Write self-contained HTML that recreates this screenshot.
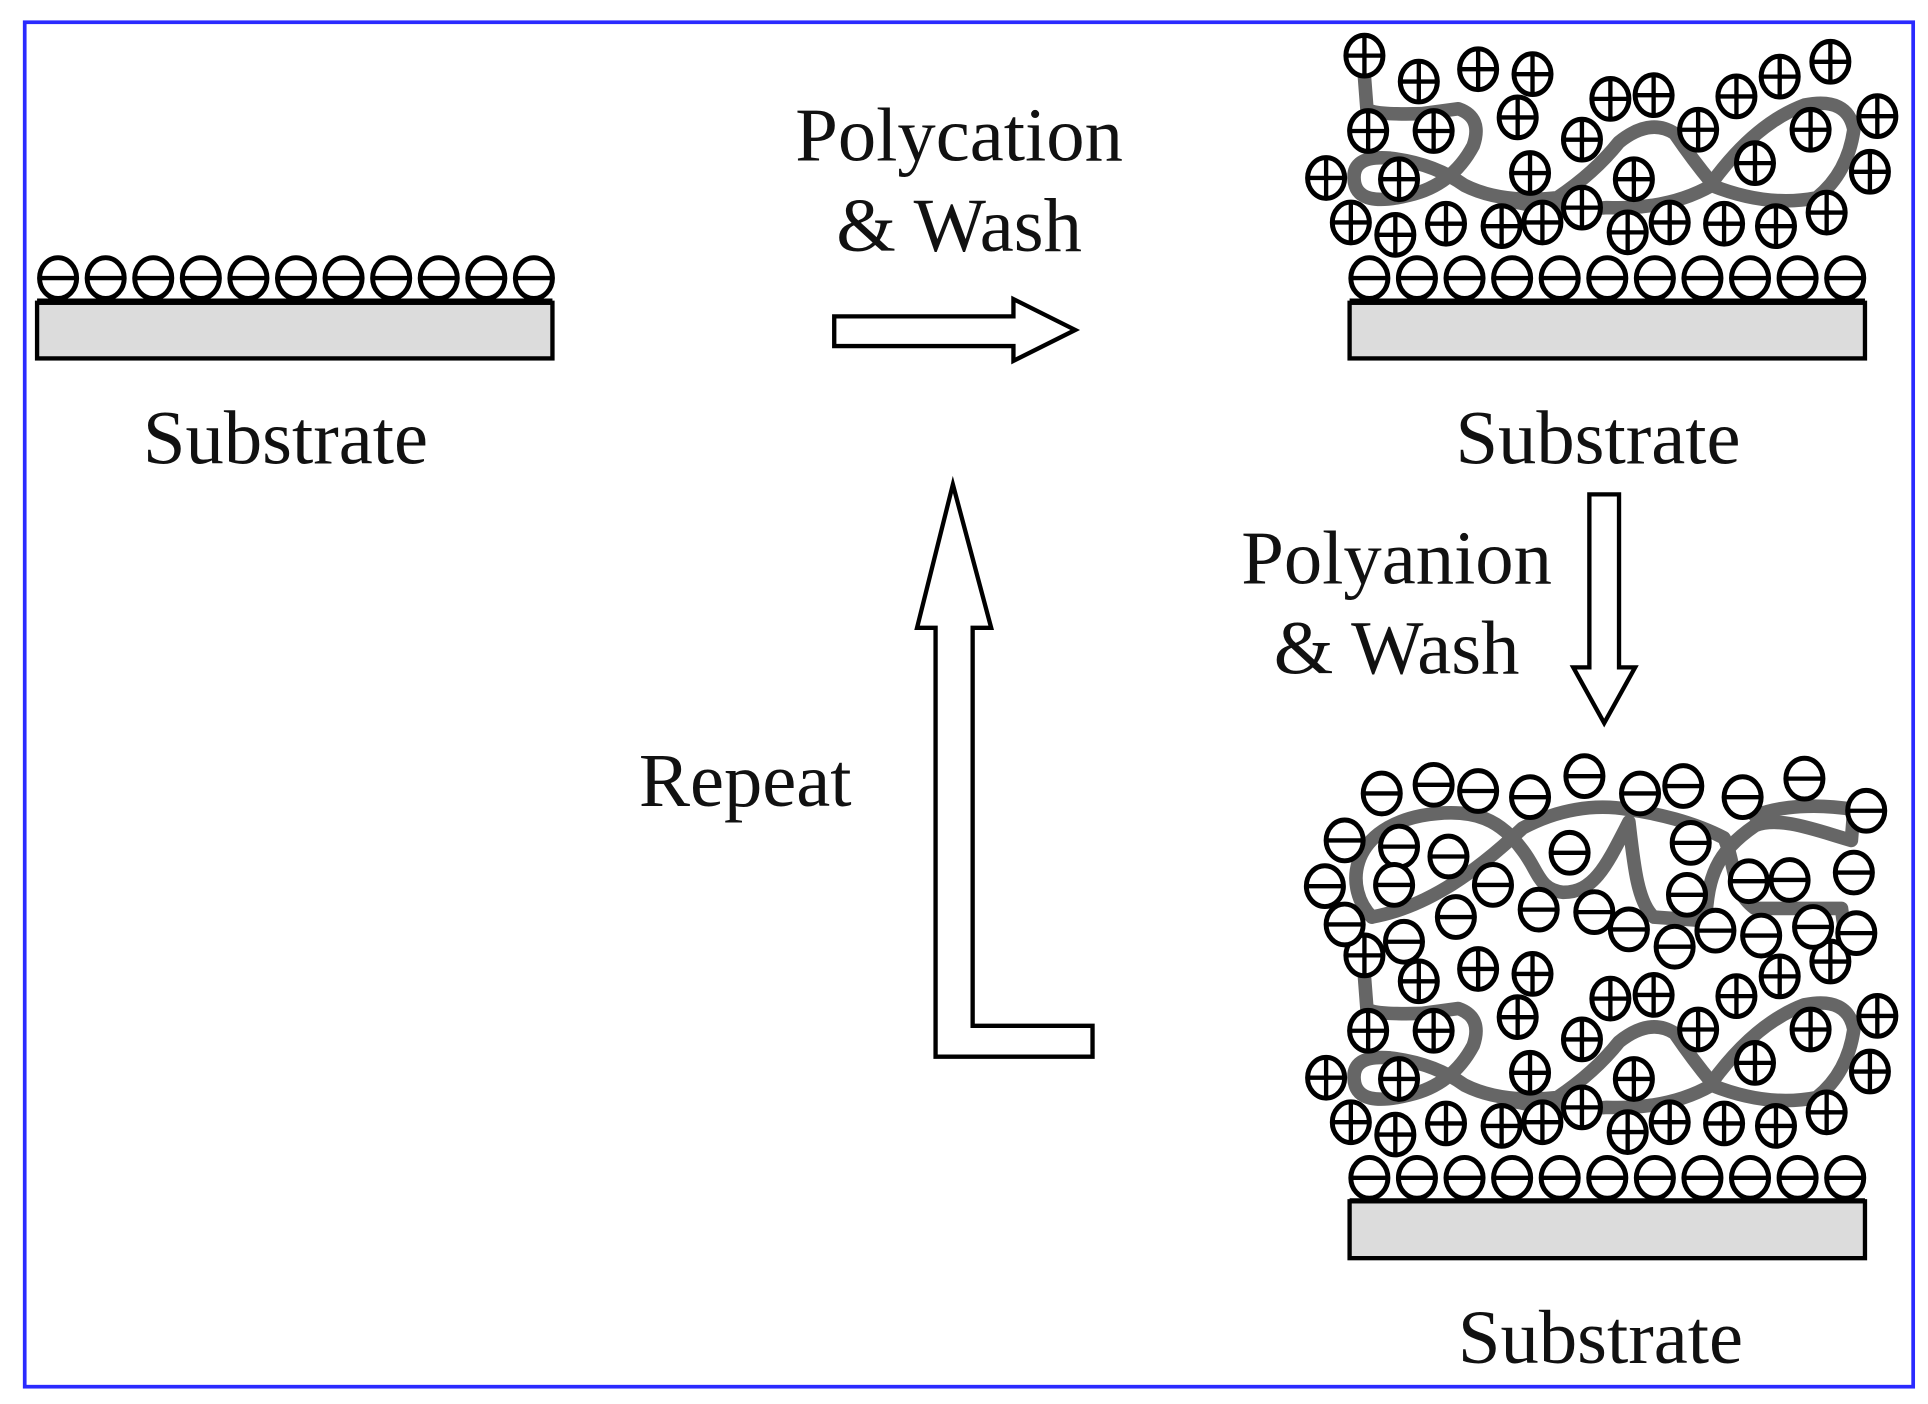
<!DOCTYPE html>
<html><head><meta charset="utf-8"><style>
html,body{margin:0;padding:0;background:#fff;}
svg{display:block;}
text{font-family:"Liberation Serif",serif;font-size:62px;fill:#111;}
</style></head><body>
<svg id="s" width="1928" height="1404" viewBox="0 0 1560 1136" preserveAspectRatio="none" xmlns="http://www.w3.org/2000/svg">
<rect x="20" y="18" width="1528" height="1104" fill="#fff" stroke="#2a2aff" stroke-width="3"/>
<rect x="30" y="245" width="417" height="45" fill="#dcdcdc" stroke="#000" stroke-width="3.5"/>
<rect x="1092" y="245" width="417" height="45" fill="#dcdcdc" stroke="#000" stroke-width="3.5"/>
<rect x="1092" y="972" width="417" height="46" fill="#dcdcdc" stroke="#000" stroke-width="3.5"/>
<g fill="none" stroke="#666" stroke-width="11" stroke-linejoin="round" stroke-linecap="round">
<path d="M1104,62 L1106,88 Q1110,93 1150,92 L1180,88 Q1200,95 1192,118 Q1175,150 1140,158 Q1100,168 1096,148 Q1092,125 1125,128 Q1160,132 1185,150 Q1215,165 1260,160 Q1290,140 1310,115 Q1335,95 1355,108 Q1370,130 1385,148 Q1420,100 1460,85 Q1495,78 1500,105 Q1495,140 1470,160 Q1430,168 1385,150 Q1350,170 1300,168 Q1260,172 1220,162"/>
</g>
<g fill="none" stroke="#666" stroke-width="11" stroke-linejoin="round" stroke-linecap="round" transform="translate(0,728)">
<path d="M1104,62 L1106,88 Q1110,93 1150,92 L1180,88 Q1200,95 1192,118 Q1175,150 1140,158 Q1100,168 1096,148 Q1092,125 1125,128 Q1160,132 1185,150 Q1215,165 1260,160 Q1290,140 1310,115 Q1335,95 1355,108 Q1370,130 1385,148 Q1420,100 1460,85 Q1495,78 1500,105 Q1495,140 1470,160 Q1430,168 1385,150 Q1350,170 1300,168 Q1260,172 1220,162"/>
</g>
<g fill="none" stroke="#666" stroke-width="11" stroke-linejoin="round" stroke-linecap="round">
<path d="M1110,742 C1088,720 1090,672 1150,660 C1195,652 1215,665 1232,688 C1245,705 1245,720 1265,722 C1290,722 1300,700 1318,665 C1322,700 1325,730 1338,742 L1380,745 C1382,710 1388,690 1420,668 C1440,660 1470,672 1498,680 L1500,655 C1470,650 1440,652 1420,660"/>
<path d="M1110,742 C1150,735 1190,710 1232,670 C1260,655 1290,650 1318,655 C1340,658 1370,665 1395,678 C1405,700 1400,720 1420,735 L1490,735 L1492,750"/>
</g>
<g id="ions"></g>
<path d="M675,256 L820,256 L820,242 L870,267 L820,292 L820,280 L675,280 Z" fill="#fff" stroke="#000" stroke-width="3.5"/>
<path d="M1286,400 L1310,400 L1310,540 L1323,540 L1298,585 L1273,540 L1286,540 Z" fill="#fff" stroke="#000" stroke-width="3.5"/>
<path d="M771,392 L802,508 L787,508 L787,830 L884,830 L884,855 L757,855 L757,508 L742,508 Z" fill="#fff" stroke="#000" stroke-width="3.5"/>
<text x="231" y="375" text-anchor="middle">Substrate</text>
<text x="1293" y="375" text-anchor="middle">Substrate</text>
<text x="1295" y="1103" text-anchor="middle">Substrate</text>
<text x="776" y="130" text-anchor="middle">Polycation</text>
<text x="776" y="203" text-anchor="middle">&amp; Wash</text>
<text x="1130" y="472" text-anchor="middle">Polyanion</text>
<text x="1130" y="545" text-anchor="middle">&amp; Wash</text>
<text x="603" y="652" text-anchor="middle">Repeat</text>
</svg>
<script>
var g=document.getElementById('ions'),h='';
function ion(x,y,p){h+='<ellipse cx="'+x+'" cy="'+y+'" rx="15" ry="16.5" fill="#fff" stroke="#000" stroke-width="4"/>'+
'<line x1="'+(x-14)+'" y1="'+y+'" x2="'+(x+14)+'" y2="'+y+'" stroke="#000" stroke-width="3.5"/>';
if(p)h+='<line x1="'+x+'" y1="'+(y-16)+'" x2="'+x+'" y2="'+(y+16)+'" stroke="#000" stroke-width="3.5"/>';}
function row(x0,y,n){for(var i=0;i<n;i++)ion(x0+i*38.5,y,false);}
row(47,225,11);row(1108,225,11);row(1108,953,11);
[[30,243,447],[1092,243,1509],[1092,971,1509]].forEach(function(a){h+='<line x1="'+a[0]+'" y1="'+a[1]+'" x2="'+a[2]+'" y2="'+a[1]+'" stroke="#000" stroke-width="3"/>';});
var P=[[1104,45],[1148,66],[1196,56],[1240,60],[1303,80],[1338,77],[1405,78],[1440,62],[1481,50],
[1107,106],[1160,106],[1228,95],[1280,113],[1374,105],[1420,132],[1465,105],[1519,94],
[1073,144],[1132,145],[1238,140],[1322,145],[1513,139],
[1093,180],[1129,190],[1170,181],[1215,183],[1248,180],[1280,168],[1317,188],[1351,180],[1395,181],[1437,183],[1478,172]];
P.forEach(function(p){ion(p[0],p[1],true);ion(p[0],p[1]+728,true);});
var N=[[1118,642],[1160,635],[1196,640],[1238,645],[1282,628],[1327,642],[1362,636],[1410,645],[1460,630],[1510,656],
[1088,680],[1132,685],[1172,693],[1270,690],[1368,682],[1500,706],
[1072,717],[1128,716],[1208,716],[1245,736],[1290,738],[1365,724],[1415,713],[1448,712],
[1088,748],[1136,762],[1178,742],[1318,752],[1355,766],[1388,753],[1425,757],[1467,750],[1502,755]];
N.forEach(function(p){ion(p[0],p[1],false);});
g.innerHTML=h;
</script>
</body></html>
